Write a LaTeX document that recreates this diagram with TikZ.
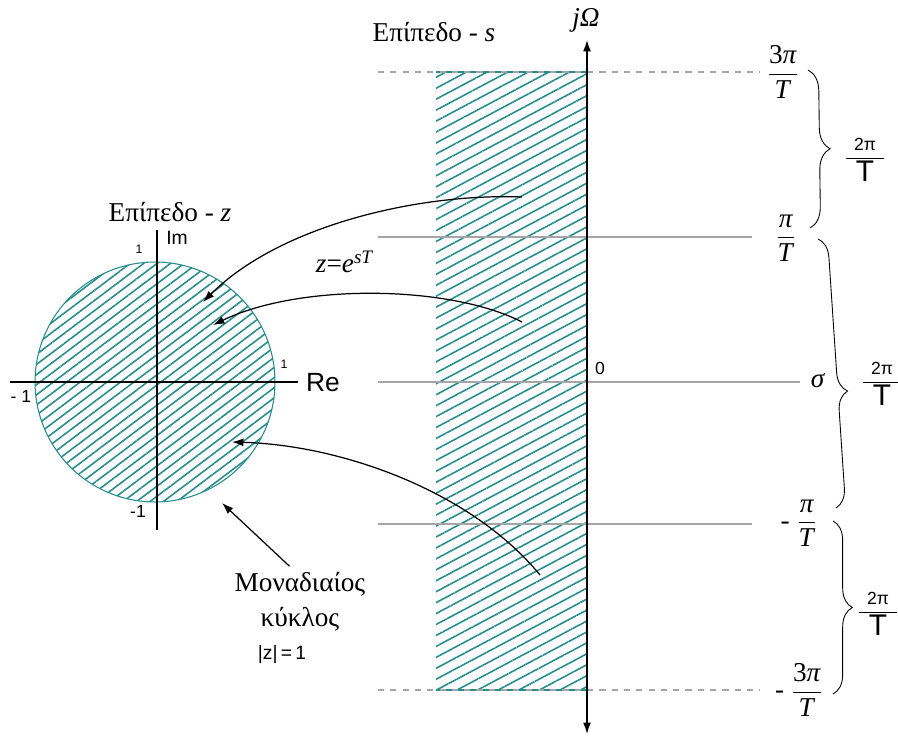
\documentclass[tikz,border=0pt]{standalone}
\usepackage{fontspec}
\setmainfont{Liberation Serif}
\newfontfamily\hand{Liberation Sans}
\usetikzlibrary{patterns.meta,decorations.pathreplacing,arrows.meta}

\definecolor{hatchteal}{RGB}{38,140,140}
\definecolor{linegray}{RGB}{165,165,165}

% fractions of the s-plane
\newcommand{\pifrac}[1]{\ensuremath{\displaystyle\frac{\hbox{#1\textit{π}}}{\hbox{\textit{T}}}}}
\newcommand{\periodfrac}{\ensuremath{\displaystyle\frac{\hbox{\hand\makebox[22pt]{\fontsize{10}{10}\selectfont 2π}}}{\hbox{\hand\fontsize{17}{17}\selectfont T}}}}

\tikzset{
    lbl/.style={font=\fontsize{15.5}{20}\selectfont},
    scribble/.style={font=\hand\fontsize{#1}{#1}\selectfont, inner sep=1pt},
    gridline/.style={linegray, line width=0.8pt},
    dashline/.style={linegray, line width=0.8pt, dash pattern=on 3.5pt off 3.5pt},
    mapto/.style={-{Latex[length=6.5pt, width=4.5pt]}, line width=0.7pt},
    curly/.style={decorate, decoration={brace, amplitude=#1}, line width=0.5pt},
}

\begin{document}
\begin{tikzpicture}[x=0.02cm, y=-0.02cm, >={Latex[length=6.5pt, width=4.5pt]}]
    \useasboundingbox (0,0) rectangle (898,736);

    % ==================== Z-PLANE: UNIT CIRCLE ====================
    \begin{scope}
        % 1. hatched disc
        \fill[pattern={Lines[angle=37, distance=4.6pt, line width=0.9pt]}, pattern color=hatchteal]
            (155,382) circle (2.4cm);
        \draw[hatchteal, line width=0.6pt] (155,382) circle (2.4cm);

        % 2. axes
        \draw[line width=0.7pt] (10,382) -- (298,382);
        \draw[line width=0.7pt] (157,230) -- (157,530);

        % 3. hand written marks
        \node[scribble=15] (re) at (323,383) {Re};
        \node[scribble=11] (im) at (177,238) {Im};
        \node[scribble=7] (oneup) at (139,249) {1};
        \node[scribble=7] (oneright) at (284,364) {1};
        \node[scribble=10] (oneleft) at (21,396) {- 1};
        \node[scribble=10] (onedown) at (138,511) {-1};

        % 4. title
        \node[lbl] (zplane) at (170,212) {Επίπεδο - \textit{z}};
    \end{scope}

    % ==================== S-PLANE: STRIP ====================
    \begin{scope}
        % 1. hatched strip
        \fill[pattern={Lines[angle=28, distance=5.5pt, line width=0.9pt]}, pattern color=hatchteal]
            (436,72) rectangle (587,690);
        \draw[hatchteal, line width=0.6pt] (436,72) -- (587,72);
        \draw[hatchteal, line width=0.6pt] (436,690) -- (587,690);

        % 2. horizontal lines
        \draw[dashline] (378,72) -- (760,72);
        \draw[gridline] (378,237) -- (752,237);
        \draw[gridline] (378,382) -- (800,382);
        \draw[gridline] (378,524) -- (752,524);
        \draw[dashline] (378,690) -- (760,690);

        % 3. j-Omega axis
        \draw[<->, line width=0.8pt] (587,734) -- (587,40);
        \node[lbl] (jomega) at (586,20) {\textit{jΩ}};
        \node[scribble=10] (origin) at (600,368) {0};
        \node[lbl] (splane) at (434,32) {Επίπεδο - \textit{s}};

        % 4. levels
        \node[lbl] (lvlA) at (783,72) {\pifrac{3}};
        \node[lbl] (lvlB) at (786,238) {\pifrac{}};
        \node[lbl] (sigma) at (818,381) {\textit{σ}};
        \node[lbl] (lvlC) at (799,523) {- \pifrac{}};
        \node[lbl] (lvlD) at (799,690) {- \pifrac{3}};

        % 5. braces with period
        \draw[curly=12pt] (808,70) -- (810,228);
        \draw[curly=11pt] (818,239) -- (836,508) [decoration={aspect=0.57}];
        \draw[curly=11pt] (833,521) -- (833,694);
        \node (perA) at (865,160) {\periodfrac};
        \node (perB) at (882,384) {\periodfrac};
        \node (perC) at (878,614) {\periodfrac};
    \end{scope}

    % ==================== MAPPING ARROWS ====================
    \coordinate (srcA) at (522,197);
    \coordinate (srcB) at (522,322);
    \coordinate (srcC) at (540,575);
    \coordinate (dstA) at (203,302);
    \coordinate (dstB) at (213,325);
    \coordinate (dstC) at (232,442);
    \draw[mapto] (srcA) .. controls (420,193) and (280,225) .. (dstA);
    \draw[mapto] (srcB) .. controls (450,285) and (300,283) .. (dstB);
    \draw[mapto] (srcC) .. controls (470,490) and (340,445) .. (dstC);
    \node[lbl] (mapping) at (345,262) {\textit{z}=\textit{e}\textsuperscript{\textit{sT}}};

    % unit circle label
    \node[lbl, align=center] (unitcircle) at (300,602) {Μοναδιαίος\\κύκλος};
    \node[scribble=11] (absz) at (282,655) {|z|\,=\,1};
    \coordinate (circpt) at (222,503);
    \draw[mapto] ([xshift=-6pt]unitcircle.north) -- (circpt);

\end{tikzpicture}
\end{document}
